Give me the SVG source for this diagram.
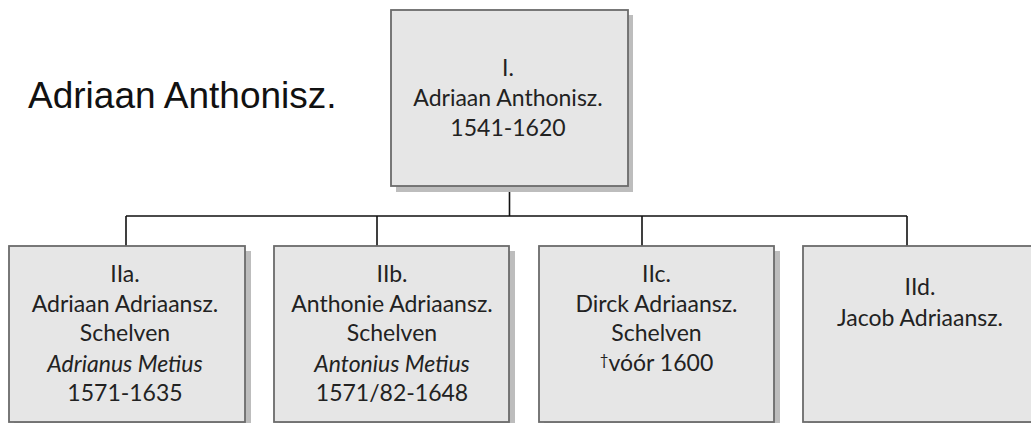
<svg xmlns="http://www.w3.org/2000/svg" width="1031" height="423" viewBox="0 0 1031 423">
<style>
.shadow{fill:#bdbdbd;}
.box{fill:#e6e6e6;stroke:#6b6b6b;stroke-width:1.8;}
.t{font-family:"Lato","Open Sans",sans-serif;font-size:23px;fill:#222;text-anchor:middle;}
.i{font-style:italic;}
.conn{stroke:#111;stroke-width:1.6;fill:none;}
.title{font-family:"Liberation Sans",Arial,sans-serif;font-size:37px;fill:#111;}
</style>
<rect width="1031" height="423" fill="#ffffff"/>
<text class="title" x="28" y="108">Adriaan Anthonisz.</text>
<g id="connectors">
<path class="conn" d="M509.5,186 V216 M126,216 H907 M126,216 V246 M377,216 V246 M642,216 V246 M907,216 V246"/>
</g>
<g id="node-I">
<rect class="shadow" x="396" y="15" width="237" height="177"/>
<rect class="box" x="391" y="10" width="237" height="176"/>
<text class="t" x="508" y="76">I.</text>
<text class="t" x="508" y="106">Adriaan Anthonisz.</text>
<text class="t" x="508" y="136">1541-1620</text>
</g>
<g id="node-IIa">
<rect class="shadow" x="14" y="251" width="237" height="177"/>
<rect class="box" x="9" y="246" width="236" height="176"/>
<text class="t" x="125" y="282">IIa.</text>
<text class="t" x="125" y="312">Adriaan Adriaansz.</text>
<text class="t" x="125" y="341">Schelven</text>
<text class="t i" x="125" y="372">Adrianus Metius</text>
<text class="t" x="125" y="401">1571-1635</text>
</g>
<g id="node-IIb">
<rect class="shadow" x="279" y="251" width="236" height="177"/>
<rect class="box" x="274" y="246" width="235" height="176"/>
<text class="t" x="392" y="282">IIb.</text>
<text class="t" x="392" y="312">Anthonie Adriaansz.</text>
<text class="t" x="392" y="341">Schelven</text>
<text class="t i" x="392" y="372">Antonius Metius</text>
<text class="t" x="392" y="401">1571/82-1648</text>
</g>
<g id="node-IIc">
<rect class="shadow" x="544" y="251" width="236" height="177"/>
<rect class="box" x="539" y="246" width="235" height="176"/>
<text class="t" x="656.5" y="282">IIc.</text>
<text class="t" x="656.5" y="312">Dirck Adriaansz.</text>
<text class="t" x="656.5" y="341">Schelven</text>
<text class="t" x="656.5" y="371"><tspan font-size="15" dy="-6">†</tspan><tspan dy="6">vóór 1600</tspan></text>
</g>
<g id="node-IId">
<rect class="shadow" x="808" y="251" width="236" height="177"/>
<rect class="box" x="803" y="246" width="236" height="176"/>
<text class="t" x="920" y="295">IId.</text>
<text class="t" x="920" y="326">Jacob Adriaansz.</text>
</g>
</svg>
